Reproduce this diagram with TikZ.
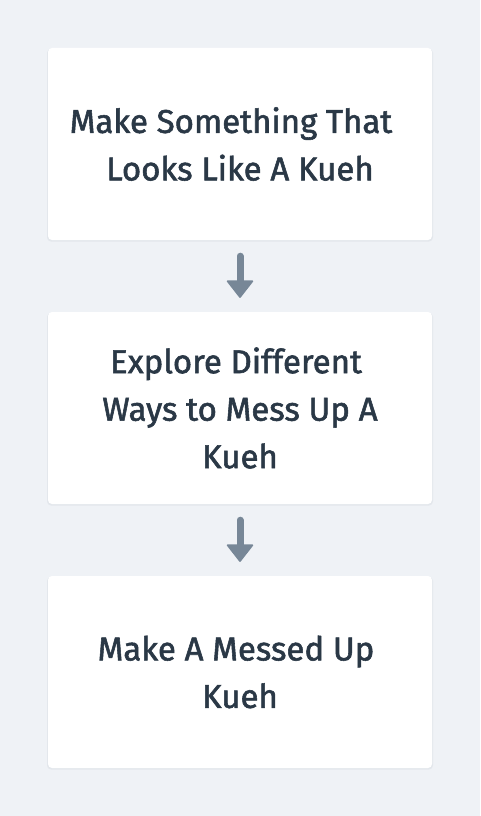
\documentclass[tikz,border=0pt]{standalone}
\usepackage{fontspec}
\setmainfont{Fira Sans}
\definecolor{bg}{HTML}{EFF2F6}
\definecolor{txt}{HTML}{2A3846}
\definecolor{arr}{HTML}{778797}
\definecolor{shad}{HTML}{E3E7EC}
\newcommand{\thk}{\special{pdf:literal direct 2 Tr 0.55 w}}
\newcommand{\thn}{\special{pdf:literal direct 0 Tr}}
\tikzset{
  card/.style={fill=white, rounded corners=4pt, minimum width=384pt, minimum height=192pt, inner sep=0pt,
    text=txt, align=center, font=\fontsize{33}{47.5}\selectfont, draw=none},
  shaft/.style={draw=arr, line width=7pt, line cap=round},
  head/.style={fill=arr, draw=arr, line width=1.5pt, line join=round},
}
\newcommand{\tsp}[1]{\hspace*{#1pt}}
\begin{document}
\begin{tikzpicture}[x=1pt,y=-1pt]
\useasboundingbox[fill=bg] (0,0) rectangle (480,816);
\foreach \y in {144,408,672}{
  \fill[shad, rounded corners=4pt] (47,\y-96+1) rectangle (433,\y+96+1.5);
}
\node[card] (a) at (240,144) {\thk Make Something That\tsp{18}\\Looks Like A Kueh\thn};
\node[card] (b) at (240,408) {\thk Explore Different\tsp{8}\\Ways to Mess Up A\tsp{8}\\Kueh\thn};
\node[card] (c) at (240,672) {\thk Make A Messed Up\tsp{8}\\Kueh\thn};
\coordinate (a1) at ([yshift=-16pt]a.south);
\coordinate (a2) at ([yshift=-42pt]a.south);
\coordinate (b1) at ([yshift=-16pt]b.south);
\coordinate (b2) at ([yshift=-42pt]b.south);
\draw[shaft] (a1) -- (a2);
\draw[shaft] (b1) -- (b2);
\filldraw[head] ([xshift=-12.5pt,yshift=-41pt]a.south) -- ([xshift=12.5pt,yshift=-41pt]a.south) -- ([yshift=-57pt]a.south) -- cycle;
\filldraw[head] ([xshift=-12.5pt,yshift=-41pt]b.south) -- ([xshift=12.5pt,yshift=-41pt]b.south) -- ([yshift=-57pt]b.south) -- cycle;
\end{tikzpicture}
\end{document}
